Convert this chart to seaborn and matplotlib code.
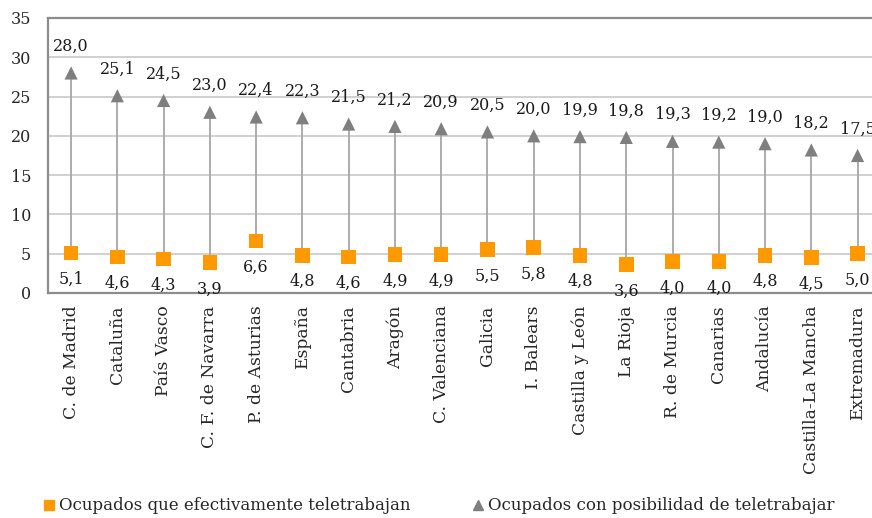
import matplotlib
matplotlib.use("Agg")
import matplotlib.pyplot as plt
import seaborn as sns
import pandas as pd
import numpy as np

regiones = ["C. de Madrid", "Cataluña", "País Vasco", "C. F. de Navarra",
            "P. de Asturias", "España", "Cantabria", "Aragón", "C. Valenciana",
            "Galicia", "I. Balears", "Castilla y León", "La Rioja", "R. de Murcia",
            "Canarias", "Andalucía", "Castilla-La Mancha", "Extremadura"]
posibilidad = [28.0, 25.1, 24.5, 23.0, 22.4, 22.3, 21.5, 21.2, 20.9, 20.5,
               20.0, 19.9, 19.8, 19.3, 19.2, 19.0, 18.2, 17.5]
efectivos = [5.1, 4.6, 4.3, 3.9, 6.6, 4.8, 4.6, 4.9, 4.9, 5.5,
             5.8, 4.8, 3.6, 4.0, 4.0, 4.8, 4.5, 5.0]
y_ticks = [0, 5, 10, 15, 20, 25, 30, 35]

serie_efect = "Ocupados que efectivamente teletrabajan"
serie_posib = "Ocupados con posibilidad de teletrabajar"

sns.set_theme(style="white")
plt.rcParams["font.family"] = ["DejaVu Serif", "DejaVu Sans"]
plt.rcParams["font.size"] = 11

df = pd.DataFrame({"region": regiones, "posib": posibilidad, "efect": efectivos})
df["pos"] = np.arange(len(df))

fig = plt.figure(figsize=(8.72, 5.18), dpi=100)
ax = fig.add_axes([0.055, 0.4344, 0.955, 0.5309])

# high-low connectors between the two series
ax.vlines(df["pos"], df["efect"], df["posib"], color="#a6a6a6", lw=1.3, zorder=2)

sns.scatterplot(data=df, x="pos", y="efect", marker="s", s=110, color="#ff9900",
                edgecolor="none", ax=ax, zorder=3, label=serie_efect, legend=False)
sns.scatterplot(data=df, x="pos", y="posib", marker="^", s=90, color="#7f7f7f",
                edgecolor="none", ax=ax, zorder=3, label=serie_posib, legend=False)

def fmt(v):
    return f"{v:.1f}".replace(".", ",")

for x, v in zip(df["pos"], df["posib"]):
    ax.annotate(fmt(v), (x, v), xytext=(0, 13), textcoords="offset points",
                ha="center", va="bottom", fontsize=11.5, color="#1a1a1a")
for x, v in zip(df["pos"], df["efect"]):
    ax.annotate(fmt(v), (x, v), xytext=(0, -13), textcoords="offset points",
                ha="center", va="top", fontsize=11.5, color="#1a1a1a")

ax.set_xlim(-0.5, len(regiones) - 0.5)
ax.set_ylim(0, 35)
ax.set_yticks(y_ticks)
ax.set_yticklabels([str(t) for t in y_ticks], fontsize=11.5)
ax.set_xticks(df["pos"])
ax.set_xticklabels(regiones, rotation=90, fontsize=12.3, va="top")
ax.tick_params(axis="x", length=0, pad=9)
ax.tick_params(axis="y", length=0, pad=12)
ax.set_xlabel("")
ax.set_ylabel("")
ax.yaxis.grid(True, color="#c8c8c8", lw=1.2)
ax.set_axisbelow(True)
for side in ["left", "top", "bottom", "right"]:
    ax.spines[side].set_color("#8c8c8c")
    ax.spines[side].set_linewidth(1.6)

handles = [
    plt.Line2D([], [], marker="s", color="#ff9900", ls="none", markersize=7),
    plt.Line2D([], [], marker="^", color="#7f7f7f", ls="none", markersize=7),
]
fig.legend(handles, [serie_efect, serie_posib], ncol=2, frameon=False,
           loc="lower left", bbox_to_anchor=(0.03, -0.022), fontsize=12,
           handletextpad=0.05, handlelength=1.0, columnspacing=3.6)

fig.savefig("out.png", dpi=100)
